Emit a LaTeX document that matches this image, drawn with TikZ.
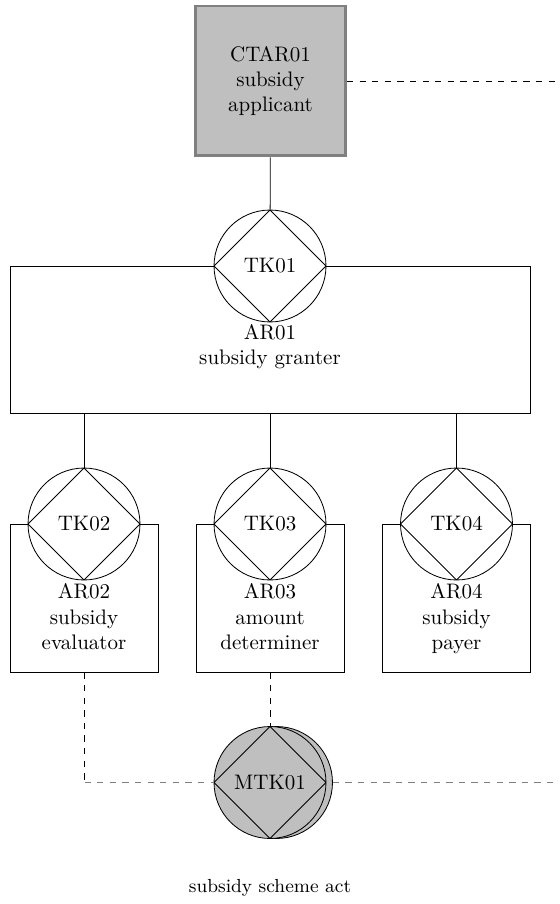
\documentclass[tikz,border=0pt]{standalone}
\begin{document}
\begin{tikzpicture}[x=0.4762pt,y=-0.4762pt,
  actorbox/.style={draw=gray, line width=1.4pt, fill=gray!50, minimum width=71.4pt,
    minimum height=71.4pt, inner sep=0pt, align=center},
  transaction/.style={circle, draw, fill=white, minimum size=53.3pt, inner sep=0pt,
    path picture={\draw (path picture bounding box.north) -- (path picture bounding box.east)
      -- (path picture bounding box.south) -- (path picture bounding box.west) -- cycle;}},
  metatransaction/.style={transaction, fill=gray!50},
  rolebox/.style={draw, inner sep=0pt},
  rolelabel/.style={anchor=north, align=center, inner sep=1.5pt},
  link/.style={draw},
  infolink/.style={draw, dashed},
  grayinfolink/.style={draw=gray, dashed}]
\useasboundingbox (0,0) rectangle (559,904);

% roles
\node[rolebox, minimum width=247.6pt, minimum height=70pt] (AR01) at (270,339.5) {};
\node[rolebox, minimum width=70.5pt, minimum height=70.5pt] (AR02) at (84.5,598) {};
\node[rolebox, minimum width=70.5pt, minimum height=70.5pt] (AR03) at (270,598) {};
\node[rolebox, minimum width=70.5pt, minimum height=70.5pt] (AR04) at (456.5,598) {};

% composite actor
\node[actorbox] (CTAR01) at (270.5,81) {CTAR01\\subsidy\\applicant};
\coordinate (rightA) at (559,81);

% transaction kinds
\node[transaction] (TK01) at (270,266) {TK01};
\node[transaction] (TK02) at (84,524) {TK02};
\node[transaction] (TK03) at (270,524) {TK03};
\node[transaction] (TK04) at (456.5,524) {TK04};

\node[rolelabel, inner sep=0.8pt] at (TK01.south) {AR01\\subsidy granter};
\node[rolelabel] at (TK02.south) {AR02\\subsidy\\evaluator};
\node[rolelabel] at (TK03.south) {AR03\\amount\\determiner};
\node[rolelabel] at (TK04.south) {AR04\\subsidy\\payer};

% meta transaction (stacked)
\node[metatransaction, path picture={}] (MTK01b) at (276.5,782.5) {};
\node[metatransaction] (MTK01) at (270,782.5) {MTK01};
\coordinate (rightB) at (559,782.5);
\coordinate (corner) at (84.5,782.5);

% structural links
\path[link] (CTAR01) -- (TK01);
\path[link] (TK02 |- AR01.south) -- (TK02);
\path[link] (TK03 |- AR01.south) -- (TK03);
\path[link] (TK04 |- AR01.south) -- (TK04);

% information links
\path[infolink] (CTAR01.east) -- (rightA);
\path[infolink] (AR02.south) -- (corner);
\path[grayinfolink] (corner) -- (MTK01.west);
\path[infolink] (AR03.south) -- (MTK01.north);
\path[grayinfolink] (MTK01b.east) -- (rightB);

\node[font=\small] (act) at (270,888) {subsidy scheme act};
\end{tikzpicture}
\end{document}
